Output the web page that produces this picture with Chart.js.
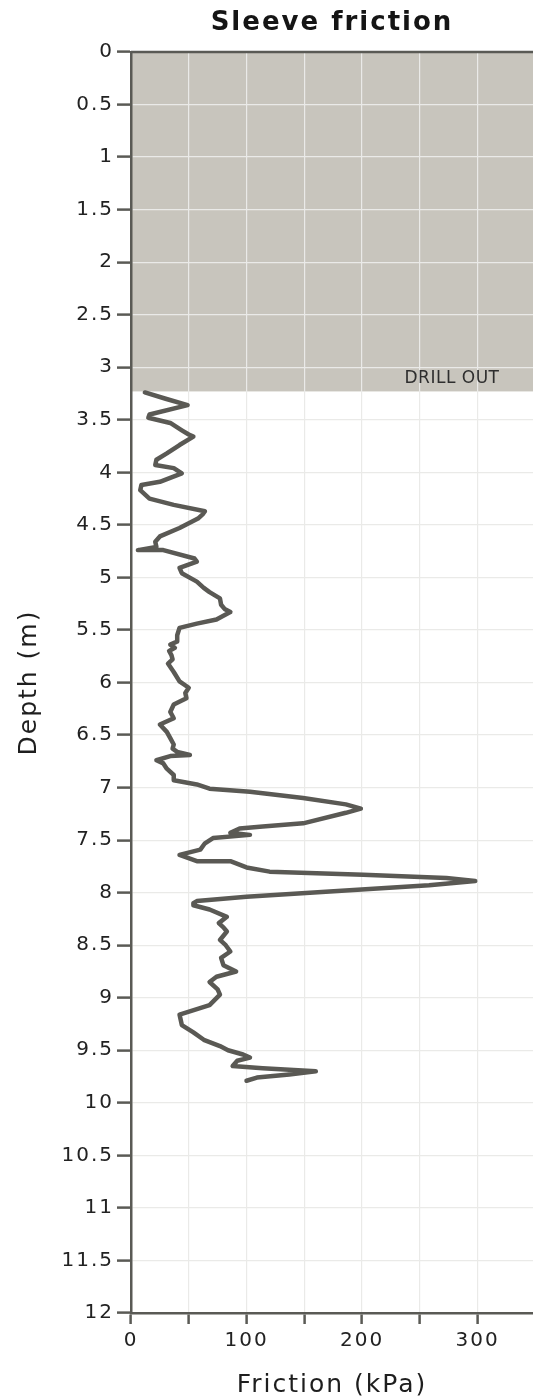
<!DOCTYPE html>
<html>
<head>
<meta charset="utf-8">
<script src="https://cdn.jsdelivr.net/npm/chart.js@4.4.0/dist/chart.umd.min.js"></script>
<style>
  html, body { margin: 0; padding: 0; background: #ffffff; }
  #wrap { width: 533px; height: 1400px; }
</style>
</head>
<body>
<div id="wrap"><canvas id="chart" width="533" height="1400"></canvas></div>
<script>
// Cone test sleeve friction profile (depth in m, friction in kPa)
const depth = [
  3.24, 3.30, 3.36, 3.45, 3.48, 3.53, 3.60, 3.64, 3.66, 3.74, 3.82, 3.88, 3.93, 3.96, 4.01,
  4.09, 4.12, 4.17, 4.25, 4.31, 4.37, 4.40, 4.44, 4.53, 4.61, 4.66, 4.71, 4.74, 4.74,
  4.82, 4.85, 4.91, 4.96, 5.04, 5.10, 5.14, 5.20, 5.26, 5.30, 5.33, 5.40, 5.44, 5.48, 5.55,
  5.61, 5.64, 5.67, 5.70, 5.74, 5.78, 5.82, 5.90, 5.99, 6.05, 6.10, 6.15, 6.21, 6.28, 6.34, 6.40, 6.47,
  6.53, 6.59, 6.63, 6.66, 6.69, 6.70, 6.74, 6.77, 6.82, 6.88, 6.93, 6.97, 7.01, 7.04,
  7.10, 7.16, 7.20, 7.24, 7.34, 7.37, 7.39, 7.43, 7.45, 7.48, 7.53, 7.59, 7.64,
  7.70, 7.70, 7.76, 7.80, 7.83, 7.86, 7.89, 7.93, 7.99, 8.04, 8.08, 8.10, 8.12,
  8.16, 8.23, 8.29, 8.33, 8.37, 8.45, 8.50, 8.56, 8.62, 8.69, 8.75, 8.80, 8.85, 8.92, 8.97, 9.07, 9.16, 9.26,
  9.33, 9.40, 9.46, 9.50, 9.54, 9.57, 9.60, 9.65, 9.67, 9.70, 9.73, 9.76, 9.79
];
const friction = [
  12, 30, 49, 16, 15, 34, 44, 50, 54, 42, 31, 22, 21, 37, 44,
  25, 9, 8, 16, 37, 64, 62, 58, 42, 25, 21, 22, 6, 28,
  55, 57, 42, 44, 57, 63, 68, 77, 78, 81, 86, 74, 57, 42, 40,
  40, 34, 38, 33, 35, 36, 32, 37, 42, 50, 47, 48, 37, 34, 37, 25, 31,
  34, 37, 36, 40, 51, 34, 22, 28, 31, 37, 37, 57, 68, 103,
  149, 186, 199, 186, 149, 114, 94, 86, 103, 71, 64, 60, 42,
  57, 86, 100, 120, 201, 273, 298, 258, 172, 100, 57, 54, 54,
  68, 83, 76, 80, 83, 77, 82, 86, 78, 80, 91, 74, 68, 75, 77, 68, 42, 44,
  54, 63, 77, 84, 97, 103, 92, 88, 114, 160, 137, 109, 100
];

// Axis ticks
const depthTicks = [0, 0.5, 1, 1.5, 2, 2.5, 3, 3.5, 4, 4.5, 5, 5.5, 6, 6.5, 7, 7.5,
  8, 8.5, 9, 9.5, 10, 10.5, 11, 11.5, 12];
const frictionTicks = [0, 50, 100, 150, 200, 250, 300];
const frictionLabels = ['0', '', '100', '', '200', '', '300'];

// Pre-drilled zone at the top of the sounding
const drillOutDepth = 3.23;
const drillOutLabel = 'DRILL OUT';

const points = depth.map((d, i) => ({ x: friction[i], y: d }));

const axisColor = '#5a5a55';
const gridColor = '#eaeae8';

const profilePlugin = {
  id: 'profileDecor',
  beforeDraw(chart) {
    const { ctx, chartArea, scales } = chart;
    ctx.letterSpacing = '2px';
    const yBottom = scales.y.getPixelForValue(drillOutDepth);
    const yTop = scales.y.getPixelForValue(0);
    ctx.save();
    ctx.fillStyle = '#c8c5bd';
    ctx.fillRect(chartArea.left, yTop, chartArea.right - chartArea.left, yBottom - yTop);
    ctx.restore();
  },
  afterDraw(chart) {
    const { ctx, chartArea, scales } = chart;
    ctx.save();
    // top frame line
    ctx.strokeStyle = axisColor;
    ctx.lineWidth = 2.5;
    ctx.beginPath();
    ctx.moveTo(chartArea.left, chartArea.top);
    ctx.lineTo(chartArea.right, chartArea.top);
    ctx.stroke();
    // zone label
    ctx.letterSpacing = '0.5px';
    ctx.fillStyle = '#2e2e2e';
    ctx.font = '17px "DejaVu Sans"';
    ctx.textAlign = 'right';
    ctx.textBaseline = 'bottom';
    ctx.fillText(drillOutLabel, scales.x.getPixelForValue(319), scales.y.getPixelForValue(drillOutDepth) - 4);
    ctx.restore();
  }
};

new Chart(document.getElementById('chart'), {
  type: 'scatter',
  data: {
    datasets: [{
      data: points,
      showLine: true,
      borderColor: '#5a5954',
      borderWidth: 4.5,
      pointRadius: 0,
      tension: 0,
      borderJoinStyle: 'round',
      borderCapStyle: 'round'
    }]
  },
  options: {
    responsive: false,
    animation: false,
    devicePixelRatio: 1,
    layout: { padding: { left: 0, right: 0, top: 0, bottom: 0 } },
    plugins: {
      legend: { display: false },
      tooltip: { enabled: false },
      title: {
        display: true,
        text: 'Sleeve friction',
        fullSize: false,
        color: '#151515',
        font: { family: 'DejaVu Sans', size: 26, weight: 'bold', lineHeight: 1.2 },
        padding: { top: 8, bottom: 12.8 }
      }
    },
    scales: {
      x: {
        type: 'linear',
        position: 'bottom',
        min: 0,
        max: 348,
        afterBuildTicks: (s) => { s.ticks = frictionTicks.map(v => ({ value: v })); },
        afterFit: (s) => { s.height = 87; },
        ticks: {
          autoSkip: false,
          maxRotation: 0,
          padding: 5,
          color: '#222222',
          font: { family: 'DejaVu Sans', size: 20 },
          callback: (v) => frictionLabels[frictionTicks.indexOf(v)] ?? ''
        },
        grid: { color: gridColor, lineWidth: 1.2, tickColor: axisColor, tickLength: 11, tickWidth: 2.5 },
        border: { color: axisColor, width: 2.5 },
        title: {
          display: true,
          text: 'Friction (kPa)',
          color: '#1e1e1e',
          font: { family: 'DejaVu Sans', size: 25 },
          padding: { top: 0, bottom: 0 }
        }
      },
      y: {
        type: 'linear',
        reverse: true,
        min: 0,
        max: 12,
        afterBuildTicks: (s) => { s.ticks = depthTicks.map(v => ({ value: v })); },
        afterFit: (s) => { s.width = 131; },
        ticks: {
          autoSkip: false,
          padding: 3,
          color: '#222222',
          font: { family: 'DejaVu Sans', size: 20 },
          callback: (v) => String(v)
        },
        grid: { color: gridColor, lineWidth: 1.2, tickColor: axisColor, tickLength: 14, tickWidth: 2.5 },
        border: { color: axisColor, width: 2.5 },
        title: {
          display: true,
          text: 'Depth (m)',
          color: '#1e1e1e',
          font: { family: 'DejaVu Sans', size: 25 },
          padding: { top: 14, bottom: 0 }
        }
      }
    }
  },
  plugins: [profilePlugin]
});
</script>
</body>
</html>
